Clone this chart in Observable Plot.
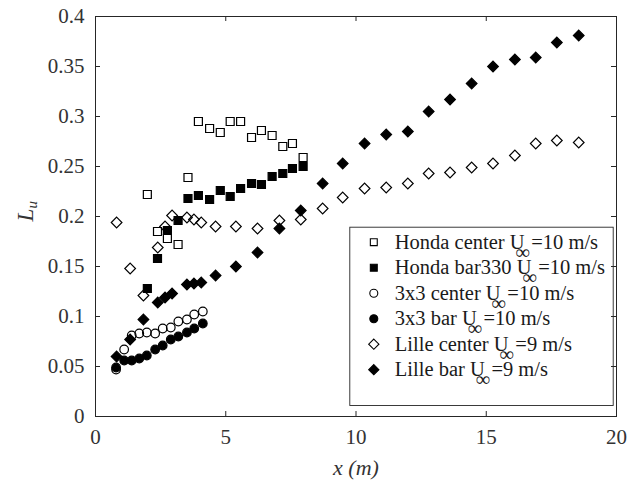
<!DOCTYPE html>
<html>
<head>
<meta charset="utf-8">
<script src="https://cdn.jsdelivr.net/npm/d3@7"></script>
<script src="https://cdn.jsdelivr.net/npm/@observablehq/plot@0.6"></script>
<style>
html, body { margin: 0; padding: 0; background: #fff; }
#chart { width: 629px; height: 485px; }
#chart svg, #chart svg text, #chart svg tspan { font-family: 'Liberation Serif', 'Times New Roman', serif !important; }
</style>
</head>
<body>
<div id="chart"></div>
<script>
// ---- data ----
const xTicks = [0, 5, 10, 15, 20];
const yTicks = [0, 0.05, 0.1, 0.15, 0.2, 0.25, 0.3, 0.35, 0.4];

const hondaX = [1.99, 2.38, 2.76, 3.17, 3.55, 3.95, 4.38, 4.79, 5.17, 5.57, 5.99, 6.37, 6.78, 7.19, 7.56, 7.97];
const hondaCenter = [0.222, 0.185, 0.178, 0.172, 0.239, 0.295, 0.288, 0.284, 0.295, 0.295, 0.279, 0.286, 0.281, 0.270, 0.273, 0.259];
const hondaBar = [0.128, 0.158, 0.186, 0.196, 0.218, 0.221, 0.217, 0.226, 0.220, 0.228, 0.233, 0.232, 0.240, 0.243, 0.248, 0.250];

const gridX = [0.79, 1.10, 1.39, 1.68, 1.97, 2.29, 2.58, 2.89, 3.18, 3.51, 3.79, 4.12];
const gridCenter = [0.047, 0.067, 0.081, 0.083, 0.084, 0.083, 0.088, 0.089, 0.095, 0.097, 0.102, 0.105];
const gridBar = [0.049, 0.056, 0.056, 0.058, 0.061, 0.067, 0.071, 0.077, 0.080, 0.084, 0.088, 0.093];

const lilleX = [0.81, 1.33, 1.84, 2.39, 2.67, 2.94, 3.51, 3.78, 4.06, 4.61, 5.39, 6.22, 7.06, 7.88, 8.72, 9.49, 10.33, 11.16, 11.99, 12.79, 13.61, 14.44, 15.26, 16.10, 16.90, 17.71, 18.55];
const lilleCenter = [0.194, 0.148, 0.121, 0.169, 0.190, 0.201, 0.199, 0.197, 0.194, 0.190, 0.190, 0.188, 0.196, 0.197, 0.208, 0.219, 0.228, 0.229, 0.233, 0.243, 0.244, 0.249, 0.253, 0.261, 0.273, 0.276, 0.274];
const lilleBar = [0.060, 0.077, 0.097, 0.114, 0.119, 0.123, 0.132, 0.133, 0.134, 0.141, 0.150, 0.164, 0.188, 0.206, 0.233, 0.253, 0.273, 0.282, 0.285, 0.305, 0.317, 0.333, 0.350, 0.357, 0.359, 0.374, 0.381];

const legendPrefix = ["Honda center U", "Honda bar330 U", "3x3 center U", "3x3 bar U", "Lille center U", "Lille bar U"];
const legendSub = "\u221E";
const legendSuffix = ["=10 m/s", "=10 m/s", "=10 m/s", "=10 m/s", "=9 m/s", "=9 m/s"];

const xLabel = "x (m)";
const yLabelMain = "L";
const yLabelSub = "u";

// ---- styles ----
const seriesX = [hondaX, hondaX, gridX, gridX, lilleX, lilleX];
const seriesY = [hondaCenter, hondaBar, gridCenter, gridBar, lilleCenter, lilleBar];
const seriesSymbol = ["square", "square", "circle", "circle", "diamond2", "diamond2"];
const seriesFilled = [false, true, false, true, false, true];
const seriesR = [4.5, 4.5, 4.3, 4.3, 4.8, 4.8];
const legendR = [3.9, 3.9, 4.0, 4.0, 4.6, 4.6];

const W = 629, H = 485, mL = 95, mR = 13, mT = 16, mB = 69;
const plotW = W - mL - mR, plotH = H - mT - mB;
const axisColor = "#262626";
const font = "'Liberation Serif', 'Times New Roman', serif";
const legendFontSize = 20.5;

const ctx = document.createElement("canvas").getContext("2d");
ctx.font = `${legendFontSize}px 'Liberation Serif', serif`;

const marks = [];

// data
seriesX.forEach((xs, s) => {
  const data = xs.map((x, i) => ({x, y: seriesY[s][i]}));
  marks.push(Plot.dot(data, {
    x: "x", y: "y",
    symbol: () => seriesSymbol[s],
    r: seriesR[s],
    fill: seriesFilled[s] ? "black" : "none",
    stroke: "black",
    strokeWidth: 1.2
  }));
});

// legend box
const lgLeft = 349.3, lgTop = 226.7, lgRight = 612.7, lgBottom = 405;
marks.push(Plot.frame({
  insetLeft: lgLeft - mL, insetTop: lgTop - mT,
  insetRight: (W - mR) - lgRight, insetBottom: (H - mB) - lgBottom,
  fill: "white", stroke: axisColor, strokeWidth: 0.9
}));

legendPrefix.forEach((label, i) => {
  const cy = 241.7 + 25.5 * i - mT;
  const markerDx = 373.3 - mL;
  const textDx = 394.3 - mL;
  const w1 = ctx.measureText(label).width;
  marks.push(Plot.dot([label], {
    frameAnchor: "top-left", dx: markerDx, dy: cy,
    symbol: () => seriesSymbol[i], r: legendR[i],
    fill: seriesFilled[i] ? "black" : "none", stroke: "black", strokeWidth: 1.1
  }));
  marks.push(Plot.text([label], {
    text: d => d, frameAnchor: "top-left", dx: textDx, dy: cy,
    textAnchor: "start", lineAnchor: "middle", fontSize: legendFontSize, fontFamily: font, fill: "#1a1a1a"
  }));
  marks.push(Plot.text([legendSub], {
    text: d => d, frameAnchor: "top-left", dx: textDx + w1 - 9.3, dy: cy + 10,
    textAnchor: "start", lineAnchor: "middle", fontSize: legendFontSize, fontFamily: font, fill: "#1a1a1a"
  }));
  marks.push(Plot.text([legendSuffix[i]], {
    text: d => d, frameAnchor: "top-left", dx: textDx + w1 + 6.7, dy: cy,
    textAnchor: "start", lineAnchor: "middle", fontSize: legendFontSize, fontFamily: font, fill: "#1a1a1a"
  }));
});

// frame
marks.push(Plot.frame({stroke: axisColor, strokeWidth: 1}));

// inward ticks
const tl = 5;
marks.push(Plot.ruleY(yTicks, {y: d => d, insetRight: plotW - tl, stroke: axisColor}));
marks.push(Plot.ruleY(yTicks, {y: d => d, insetLeft: plotW - tl, stroke: axisColor}));
marks.push(Plot.ruleX(xTicks, {x: d => d, insetTop: plotH - tl, stroke: axisColor}));
marks.push(Plot.ruleX(xTicks, {x: d => d, insetBottom: plotH - tl, stroke: axisColor}));

// tick labels
marks.push(Plot.axisY({ticks: yTicks, tickSize: 0, tickPadding: 11, tickFormat: d => String(d), fontSize: 21, fontFamily: font, label: null}));
marks.push(Plot.axisX({ticks: xTicks, tickSize: 0, tickPadding: 13, tickFormat: d => String(d), fontSize: 21, fontFamily: font, label: null}));

// axis labels
marks.push(Plot.text([xLabel], {
  text: d => d, frameAnchor: "bottom", dy: 51, lineAnchor: "middle",
  fontStyle: "italic", fontSize: 22, fontFamily: font, fill: "#333"
}));
marks.push(Plot.text([yLabelMain], {
  text: d => d, frameAnchor: "left", dx: -70, dy: 5, rotate: -90, lineAnchor: "middle",
  fontStyle: "italic", fontSize: 23, fontFamily: font, fill: "#333"
}));
marks.push(Plot.text([yLabelSub], {
  text: d => d, frameAnchor: "left", dx: -63, dy: -8, rotate: -90, lineAnchor: "middle",
  fontStyle: "italic", fontSize: 15, fontFamily: font, fill: "#333"
}));

const chart = Plot.plot({
  width: W, height: H,
  marginLeft: mL, marginRight: mR, marginTop: mT, marginBottom: mB,
  x: {domain: [0, 20], label: null},
  y: {domain: [0, 0.4], label: null},
  style: {fontFamily: font, fontSize: "21px", color: "#333", background: "white"},
  marks
});
document.getElementById("chart").appendChild(chart);
</script>
</body>
</html>
